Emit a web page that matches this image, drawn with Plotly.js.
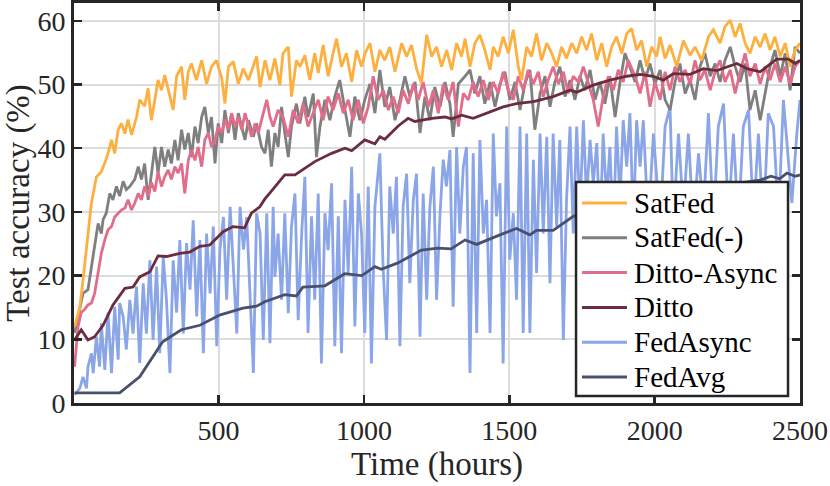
<!DOCTYPE html>
<html>
<head>
<meta charset="utf-8">
<script src="https://cdn.plot.ly/plotly-3.0.1.min.js"></script>
<style>
  html, body { margin: 0; padding: 0; background: #fff; }
  #chart { width: 830px; height: 486px; }
</style>
</head>
<body>
<div id="chart"></div>
<script>
// values (time in hours, accuracy in %)
const satfedT = [5,23,34,51,63,80,97,109,120,132,143,155,166,178,189,201,218,229,246,258,269,281,292,304,315,333,344,356,373,384,396,407,424,442,459,476,493,511,522,534,551,568,585,603,620,631,643,660,677,694,711,722,740,751,768,780,797,814,831,843,860,877,894,906,923,940,958,975,992,1004,1021,1038,1055,1072,1089,1107,1130,1147,1164,1181,1198,1216,1233,1250,1267,1285,1302,1319,1336,1348,1365,1382,1399,1416,1434,1445,1462,1479,1497,1514,1531,1542,1560,1577,1594,1611,1629,1646,1663,1680,1697,1715,1732,1749,1766,1783,1801,1818,1835,1852,1869,1887,1904,1921,1938,1955,1973,1990,2007,2019,2036,2053,2076,2099,2122,2139,2162,2185,2202,2225,2242,2260,2277,2294,2311,2328,2346,2363,2380,2397,2414,2432,2449,2466,2483,2500];
const satfedV = [12,15,19.3,26.6,31.4,35.5,36.3,37.7,39.2,41.3,39.2,42.9,43.9,42.3,44.5,42.1,44.9,47.6,46.6,49.4,44.4,47.6,50.7,49.1,51.5,48.1,46.0,51.3,52.8,47.6,52.0,53.3,50.7,53.8,50.1,52.8,53.8,51.0,47.0,52.8,53.6,50.1,52.5,50.7,53.1,54.4,49.6,53.8,50.7,54.1,49.9,54.9,55.9,48.1,53.8,52.8,54.6,50.7,54.9,51.8,56.2,51.3,54.9,57.2,52.8,54.9,50.4,55.4,52.8,54.9,56.5,52.0,55.4,53.8,55.9,52.0,56.5,54.4,56.2,52.5,50.2,57.8,54.4,55.9,52.8,55.4,52.3,56.5,54.4,57.2,52.8,56.5,57.8,55.4,52.3,55.9,54.4,57.5,54.9,58.6,52.8,50.7,55.9,54.4,58.0,53.8,56.5,54.9,52.8,55.9,54.1,56.5,54.9,57.5,55.4,58.0,53.8,56.5,52.8,55.9,57.5,54.9,58.0,58.8,55.4,56.9,52.8,55.9,54.4,57.5,54.1,56.2,52.8,56.9,54.6,55.9,53.8,57.5,58.6,56.5,59.1,60.1,57.5,59.6,56.5,54.9,57.5,55.9,58.0,55.4,57.5,54.4,56.5,52.8,55.4,56.5];

const satfedMinusT = [5,23,34,51,63,74,86,97,103,114,126,137,149,160,172,183,195,212,224,235,246,258,269,281,292,304,315,327,338,350,361,373,384,396,407,419,430,442,453,465,476,488,499,511,522,534,545,557,568,580,591,603,620,631,648,660,671,682,694,705,717,728,740,751,768,780,797,808,826,837,849,866,883,900,917,935,952,969,986,1003,1021,1038,1055,1072,1089,1107,1124,1141,1158,1176,1193,1210,1227,1244,1262,1279,1296,1307,1325,1348,1365,1382,1399,1416,1434,1451,1468,1485,1502,1520,1537,1554,1571,1588,1606,1623,1640,1657,1674,1692,1709,1726,1743,1760,1778,1795,1812,1829,1846,1864,1881,1898,1915,1933,1950,1967,1984,2001,2019,2036,2053,2070,2087,2105,2122,2139,2156,2173,2191,2208,2225,2242,2260,2277,2294,2311,2328,2346,2363,2380,2397,2414,2432,2449,2466,2483,2500];
const satfedMinusV = [11,15.0,17.2,17.8,21.4,25.1,28.2,26.6,28.8,29.8,32.9,31.9,34.0,32.5,34.8,33.5,34.0,35.1,37.1,35.1,37.6,31.9,36.1,40.2,36.1,40.2,37.1,39.8,37.6,41.3,38.1,42.9,39.8,42.4,38.6,43.4,40.8,44.9,46.5,42.4,44.9,37.6,43.9,40.8,46.0,42.4,45.5,41.3,45.5,43.4,41.3,44.4,41.8,43.9,40.2,39.2,42.9,37.1,42.4,40.2,46.5,42.4,38.6,43.4,47.0,43.9,48.1,44.9,48.6,38.6,43.4,47.6,44.4,48.1,50.7,46.0,41.8,48.1,44.4,47.6,50.1,45.5,52.3,46.5,49.6,44.4,47.6,51.3,48.1,50.4,42.4,48.1,44.4,49.6,46.5,50.4,47.0,41.8,50.1,51.3,52.3,48.6,51.3,47.0,50.4,46.5,50.1,52.0,47.6,50.4,46.0,50.1,52.3,42.9,48.6,51.3,46.5,50.4,52.8,48.1,50.7,47.6,51.3,49.1,52.3,47.6,50.4,47.0,51.3,44.9,50.4,54.9,52.8,50.4,53.8,50.7,53.3,50.1,52.3,47.6,46.0,50.4,53.3,48.6,50.7,47.6,52.8,54.9,51.3,53.3,50.4,53.8,55.9,52.8,50.4,53.3,46.0,49.1,44.4,48.6,52.8,55.4,51.3,54.9,49.1,55.9,54.9];

const dittoAsyncT = [5,17,28,40,51,63,74,86,97,109,120,132,143,155,166,178,189,201,212,224,235,246,258,269,281,292,304,315,327,338,350,361,373,384,396,407,419,430,442,453,465,476,488,499,511,522,534,545,557,568,580,591,603,614,626,637,654,666,677,688,705,722,740,757,774,791,808,826,843,860,877,894,912,929,946,963,981,998,1015,1032,1049,1067,1084,1101,1118,1135,1153,1170,1187,1204,1222,1239,1256,1273,1290,1307,1325,1342,1359,1376,1393,1411,1428,1445,1462,1479,1497,1514,1531,1548,1565,1583,1600,1617,1634,1651,1669,1686,1703,1720,1738,1755,1772,1789,1806,1823,1841,1858,1875,1892,1909,1933,1950,1967,1984,2001,2019,2036,2053,2070,2087,2105,2122,2139,2156,2173,2191,2208,2225,2242,2260,2277,2294,2311,2328,2346,2363,2380,2397,2414,2432,2449,2466,2483,2500];
const dittoAsyncV = [5.7,12.0,14.2,14.7,15.4,15.7,17.2,20.4,23.5,25.6,27.2,27.7,29.2,29.8,30.3,30.6,31.9,30.3,31.4,32.9,31.9,34.0,32.5,34.6,33.2,36.3,34.0,35.5,36.6,35.1,37.1,36.1,37.6,32.9,38.1,39.7,38.1,40.2,37.1,41.3,42.4,40.2,41.3,43.4,42.4,44.5,42.9,45.5,43.4,44.9,42.9,45.5,43.4,41.8,43.9,42.4,45.5,47.6,44.9,43.4,46.0,44.9,41.8,46.0,43.9,47.0,43.4,45.5,47.6,44.4,48.1,46.0,48.6,45.5,47.6,44.4,47.6,43.9,46.5,51.3,47.6,49.1,46.0,48.1,45.5,49.1,47.0,50.1,47.6,50.4,46.5,49.1,45.5,50.1,47.6,50.4,43.4,48.6,47.6,50.4,48.1,50.7,47.6,50.4,48.6,52.0,49.1,47.6,51.3,49.1,52.3,50.1,52.0,48.1,50.7,52.8,50.1,52.0,48.6,51.3,50.4,52.8,50.1,47.6,43.4,48.1,51.3,49.1,52.3,50.4,53.8,51.3,48.6,52.0,46.5,50.4,47.6,52.0,49.1,52.8,50.4,52.3,50.1,53.8,50.7,52.3,49.1,52.0,53.8,50.4,52.3,48.6,52.0,54.9,51.3,53.3,50.1,52.8,50.7,53.3,50.4,52.8,50.1,52.8,53.8];

const dittoT = [5,28,51,74,103,137,178,206,229,264,292,321,367,401,436,470,516,550,590,613,642,659,677,728,763,831,889,935,958,1003,1038,1055,1072,1118,1152,1175,1233,1279,1302,1336,1376,1434,1479,1525,1583,1651,1709,1732,1789,1846,1904,1950,1995,2030,2064,2122,2168,2214,2283,2317,2363,2420,2460,2483,2500];
const dittoV = [9.9,11.5,9.9,10.4,12.2,15.4,18.0,18.2,19.8,20.6,23.1,23.0,23.5,23.7,24.6,24.8,26.9,27.7,27.5,29.8,30.8,32.0,33.0,35.8,35.8,37.9,39.2,40.0,39.6,41.3,40.7,41.8,41.4,43.5,44.7,44.2,44.7,44.9,44.6,45.2,44.7,45.7,46.5,47.0,47.3,48.1,49.1,48.8,49.9,50.7,51.3,51.6,51.3,50.7,51.7,51.6,52.5,52.2,53.3,52.5,52.0,54.0,54.0,53.3,53.8];

const fedAsyncT = [5,23,34,46,51,63,69,80,91,97,109,120,132,143,155,160,172,183,195,206,218,229,241,252,264,275,287,298,310,321,333,344,356,367,379,390,402,413,425,436,448,459,471,482,494,505,517,528,540,551,563,574,586,597,609,620,631,643,654,666,677,688,694,705,717,728,740,751,763,774,786,797,808,820,831,843,854,866,877,889,900,912,923,935,946,958,969,981,992,1003,1015,1026,1038,1055,1066,1078,1089,1101,1112,1124,1135,1147,1158,1170,1181,1193,1204,1216,1227,1239,1250,1262,1273,1284,1296,1307,1319,1330,1342,1353,1365,1376,1388,1399,1411,1422,1434,1445,1456,1468,1479,1491,1502,1514,1525,1537,1548,1560,1571,1583,1594,1606,1617,1629,1640,1651,1663,1674,1686,1697,1709,1720,1732,1743,1755,1766,1778,1789,1801,1812,1823,1835,1846,1858,1869,1881,1892,1904,1915,1927,1938,1950,1961,1978,1996,2019,2036,2053,2064,2082,2099,2116,2133,2151,2168,2185,2202,2219,2237,2254,2271,2288,2305,2323,2340,2357,2374,2391,2409,2426,2443,2455,2472,2489,2500];
const fedAsyncV = [1.3,2.3,4.1,2.3,5.7,7.8,4.7,10.4,5.7,12.5,5.2,14.2,4.7,15.1,6.8,15.7,13.6,8.4,16.2,10.9,18.3,6.3,18.8,10.9,22.4,9.9,21.4,7.8,23.0,16.2,4.7,22.4,14.2,25.6,10.9,25.1,17.8,28.7,13.6,25.6,7.8,26.6,17.2,27.7,8.9,24.1,29.2,16.2,30.8,21.4,10.9,30.8,24.1,29.2,16.2,4.7,29.8,26.6,9.9,29.8,9.4,30.8,19.8,26.6,16.2,29.8,14.1,27.7,32.9,13.0,26.6,35.5,11.0,29.3,16.2,32.9,6.2,29.8,24.0,34.5,8.9,29.3,7.8,31.9,20.4,37.1,12.0,32.9,26.6,11.0,34.0,6.2,30.8,39.2,21.4,9.9,34.0,26.6,35.5,8.9,30.8,36.0,18.8,31.9,36.0,10.4,32.9,16.2,30.8,37.1,16.2,29.8,38.2,34.0,39.7,15.1,40.2,26.6,37.1,40.2,4.7,39.2,11.0,41.3,26.6,31.9,11.0,42.3,29.3,34.5,6.2,43.4,22.5,29.8,16.2,43.4,11.0,42.3,11.0,38.2,20.4,42.3,26.6,41.8,18.8,42.3,27.7,41.3,9.9,31.9,43.4,26.6,43.4,29.8,44.4,31.9,41.3,34.5,40.8,26.6,42.3,31.9,40.2,26.6,43.4,31.9,44.4,37.1,45.5,28.0,44.4,37.1,44.4,28.0,42.3,28.0,43.4,46.5,28.0,42.3,30.0,42.3,28.0,39.2,30.0,45.5,28.0,43.4,47.0,29.0,42.3,28.0,43.4,46.0,29.0,42.3,28.0,45.5,43.4,29.0,47.6,41.3,31.4,42.3,47.6];

const fedAvgT = [5,160,229,274,308,372,436,504,584,631,659,728,768,790,866,934,993,1038,1060,1117,1164,1198,1255,1300,1348,1388,1468,1525,1571,1594,1651,1720,1800,1900,2000,2100,2200,2300,2363,2400,2430,2455,2483,2500];
const fedAvgV = [1.6,1.6,4.1,7.3,9.6,11.5,12.2,13.8,14.9,15.2,15.9,17.0,16.8,18.2,18.4,20.3,20.0,21.4,21.0,22.0,23.1,24.0,24.3,24.2,25.6,24.9,26.4,27.4,26.4,27.1,27.1,29.3,30.2,31.3,32.4,33.3,34.0,34.6,35.0,35.6,35.2,36.1,35.6,35.8];

const xTicks = [500, 1000, 1500, 2000, 2500];
const yTicks = [0, 10, 20, 30, 40, 50, 60];

const font = '"Liberation Serif", serif';
const ink = '#262626';

// drawn bottom to top; leg = row in the legend box
const series = [
  { name: 'FedAsync',    x: fedAsyncT,     y: fedAsyncV,     color: '#8aa5e8', leg: 4 },
  { name: 'FedAvg',      x: fedAvgT,       y: fedAvgV,       color: '#48506e', leg: 5 },
  { name: 'SatFed(-)',   x: satfedMinusT,  y: satfedMinusV,  color: '#7f7f7f', leg: 1 },
  { name: 'Ditto-Async', x: dittoAsyncT,   y: dittoAsyncV,   color: '#e26d8a', leg: 2 },
  { name: 'SatFed',      x: satfedT,       y: satfedV,       color: '#fdb040', leg: 0 },
  { name: 'Ditto',       x: dittoT,        y: dittoV,        color: '#6b2d3c', leg: 3 },
];

const data = series.map(s => ({
  type: 'scatter',
  mode: 'lines',
  name: s.name,
  x: s.x,
  y: s.y,
  showlegend: false,
  line: { color: s.color, width: 2.8 },
}));

// legend box drawn by hand so its rows can be as tight as the reference
const legBox = { x0: 0.6915, x1: 0.9835, y0: 0.0175, y1: 0.5525 };
const rowTop = 0.5, rowStep = 0.087;
const shapes = [{
  type: 'rect', xref: 'paper', yref: 'paper',
  x0: legBox.x0, x1: legBox.x1, y0: legBox.y0, y1: legBox.y1,
  fillcolor: '#ffffff', line: { color: ink, width: 2.5 }, layer: 'above',
}];
const annotations = [];
series.forEach(s => {
  const yy = rowTop - s.leg * rowStep;
  shapes.push({
    type: 'line', xref: 'paper', yref: 'paper',
    x0: 0.6997, x1: 0.7617, y0: yy, y1: yy,
    line: { color: s.color, width: 3 }, layer: 'above',
  });
  annotations.push({
    xref: 'paper', yref: 'paper', x: 0.769, y: yy,
    xanchor: 'left', yanchor: 'middle', showarrow: false,
    text: s.name, font: { family: font, size: 29, color: '#000000' },
  });
});

const axisBase = {
  ticks: 'inside',
  ticklen: 8,
  tickwidth: 2.5,
  tickcolor: ink,
  showline: true,
  linewidth: 3,
  linecolor: ink,
  mirror: 'ticks',
  showgrid: true,
  gridcolor: '#dcdcdc',
  gridwidth: 2,
  zeroline: false,
  tickfont: { family: font, size: 28, color: ink },
};

const layout = {
  width: 830,
  height: 486,
  margin: { l: 74, r: 30, t: 3, b: 83 },
  font: { family: font, color: ink },
  paper_bgcolor: '#ffffff',
  plot_bgcolor: '#ffffff',
  showlegend: false,
  xaxis: Object.assign({}, axisBase, {
    range: [3, 2500],
    tickvals: xTicks,
    title: { text: 'Time (hours)', font: { family: font, size: 33, color: ink }, standoff: 4 },
  }),
  yaxis: Object.assign({}, axisBase, {
    range: [0, 62.8],
    tickvals: yTicks,
    title: { text: 'Test accuracy (%)', font: { family: font, size: 33, color: ink }, standoff: 6 },
  }),
  shapes: shapes,
  annotations: annotations,
};

Plotly.newPlot('chart', data, layout, { displayModeBar: false, staticPlot: true });
</script>
</body>
</html>
